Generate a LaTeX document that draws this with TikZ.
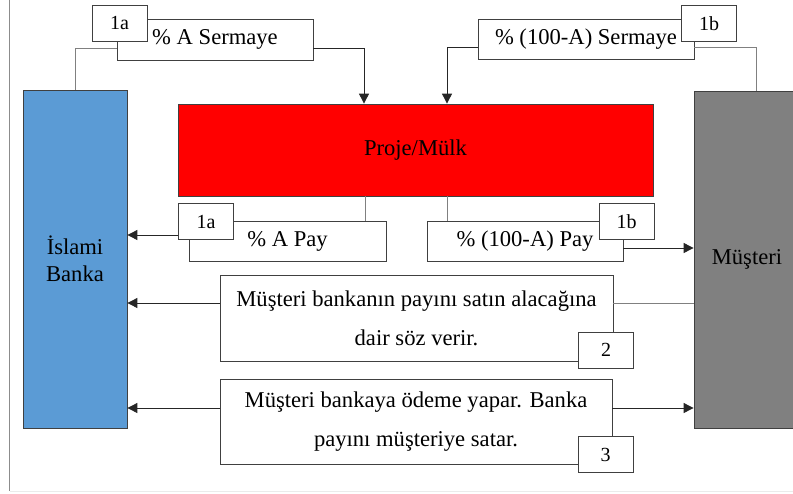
\documentclass[tikz,border=0pt]{standalone}
\usepackage{fontspec}
\setmainfont{Liberation Serif}
\usetikzlibrary{arrows.meta}

\definecolor{bankblue}{HTML}{5B9BD5}
\definecolor{projred}{HTML}{FF0000}
\definecolor{clientgray}{HTML}{808080}

\begin{document}
\begin{tikzpicture}[x=1pt,y=-1pt,
        box/.style 2 args={draw=black!75, line width=0.8pt, fill=white, inner sep=0pt,
            minimum width=#1, minimum height=#2, align=center, font=\fontsize{22.6}{39}\selectfont},
        tag/.style={box={55}{36}, font=\fontsize{20}{24}\selectfont},
        party/.style 2 args={draw=black!75, line width=0.8pt, inner sep=0pt,
            minimum width=#1, minimum height=#2, align=center, font=\fontsize{22.6}{27}\selectfont},
        link/.style={draw=black!50, line width=0.9pt},
        flow/.style={draw=black!85, line width=0.9pt, -{Triangle[length=10pt,width=10pt]}}]
    \useasboundingbox (0,0) rectangle (793,493);

    %draw the page frame
    \draw[black!45, line width=0.9pt] (9.5,0) -- (9.5,491);
    \draw[black!8, line width=0.9pt] (9.5,491) -- (793,491);

    %draw the three parties
    \node[party={104}{338}, fill=bankblue] (bank) at (75,259) {İslami\\Banka};
    \node[party={106}{337}, fill=clientgray] (client) at (747,259.5) {Müşteri};
    \node[party={475}{92}, fill=projred] (proj) at (415.5,150) {Proje/Mülk};

    %capital put in by both sides
    \node[box={196}{41}] (capA) at (215,39.5) {\% A Sermaye};
    \node[tag] (capAtag) at (119.5,23) {1a};
    \node[box={216}{40}] (capB) at (586,39) {\% (100-A) Sermaye};
    \node[tag] (capBtag) at (709,23.5) {1b};

    %shares of the project
    \node[box={197}{40}] (payA) at (287.5,241) {\% A Pay};
    \node[tag] (payAtag) at (206,221.5) {1a};
    \node[box={196}{40}] (payB) at (525,241) {\% (100-A) Pay};
    \node[tag] (payBtag) at (626.5,221.5) {1b};

    %promise and sale
    \node[box={393}{86}] (promise) at (416.5,318) {Müşteri bankanın payını satın alacağına\\dair söz verir.};
    \node[tag] (promisetag) at (606,350) {2};
    \node[box={392}{85}] (sale) at (416,421.5) {Müşteri bankaya ödeme yapar. Banka\\payını müşteriye satar.};
    \node[tag] (saletag) at (605.5,454.5) {3};

    %draw the connectors
    \draw[link] (bank.north) |- (capA.west |- 0,48);
    \draw[flow] (capA.east |- 0,48) -| (364,0 |- proj.north);
    \draw[link] (756,0 |- client.north) |- (capB.east |- 0,47);
    \draw[flow] (capB.west |- 0,47) -| (447,0 |- proj.north);

    \draw[link] (365,0 |- proj.south) -- (365,0 |- payA.north);
    \draw[link] (447,0 |- proj.south) -- (447,0 |- payB.north);
    \draw[flow] (payAtag.west |- 0,235) -- (bank.east |- 0,235);
    \draw[flow] (payB.east |- 0,248) -- (client.west |- 0,248);

    \draw[link] (client.west |- 0,303) -- (promise.east |- 0,303);
    \draw[flow] (promise.west |- 0,303) -- (bank.east |- 0,303);
    \draw[flow] (sale.west |- 0,408) -- (bank.east |- 0,408);
    \draw[flow] (sale.east |- 0,408) -- (client.west |- 0,408);
\end{tikzpicture}
\end{document}
